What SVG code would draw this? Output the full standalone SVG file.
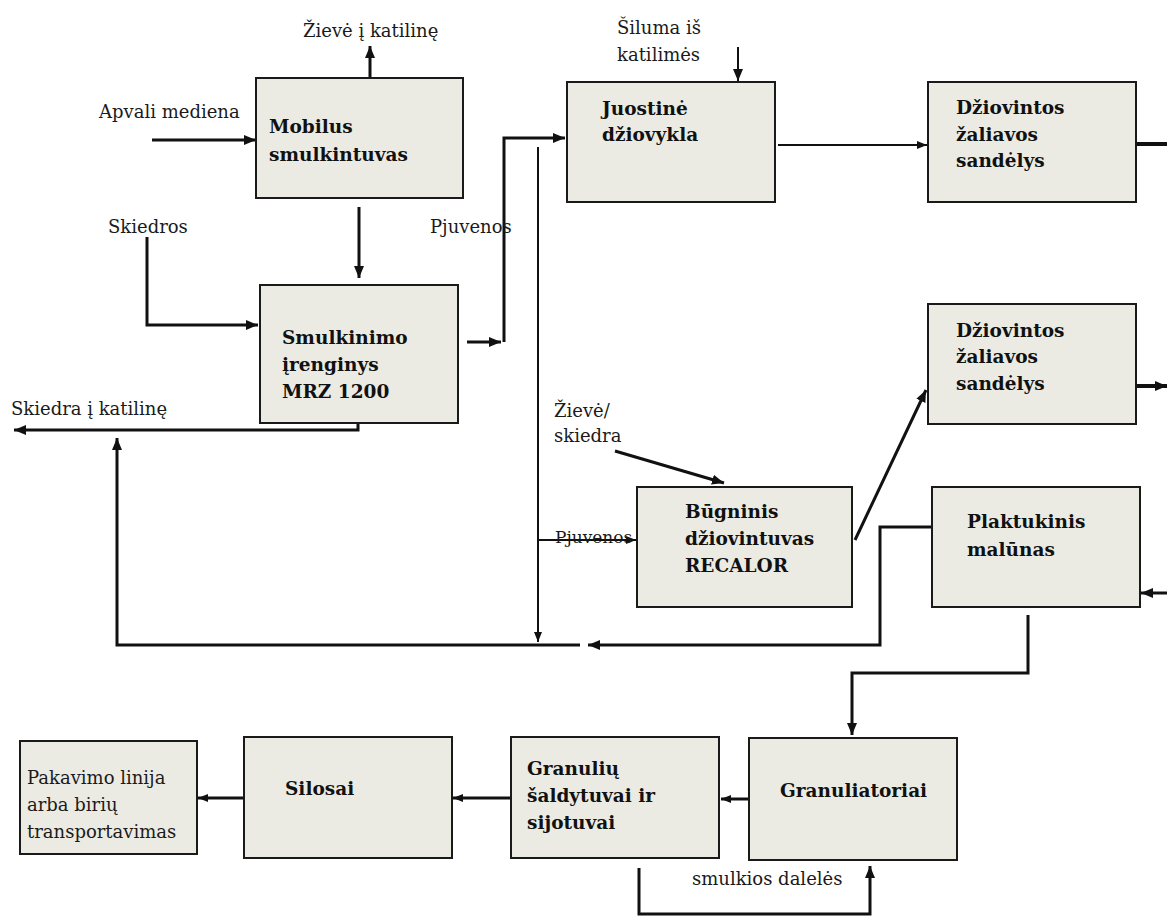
<svg xmlns="http://www.w3.org/2000/svg" width="1167" height="917" viewBox="0 0 1167 917">
<style>
.box{fill:#EBEBE4;stroke:#1a1a1a;stroke-width:2}
.t{font-family:"DejaVu Serif","Liberation Serif",serif;font-size:18px;fill:#1a1a1a}
.b{font-family:"DejaVu Serif","Liberation Serif",serif;font-size:18.5px;font-weight:bold;fill:#111}
.c{fill:none;stroke:#111;stroke-width:3}
.n{fill:none;stroke:#111;stroke-width:2}
</style>
<defs>
<marker id="ah" markerUnits="userSpaceOnUse" markerWidth="14" markerHeight="12" refX="12" refY="6" orient="auto">
<path d="M0,1 L12,6 L0,11 Z" fill="#111"/>
</marker>
<marker id="as" markerUnits="userSpaceOnUse" markerWidth="12" markerHeight="10" refX="10" refY="5" orient="auto">
<path d="M0,1 L10,5 L0,9 Z" fill="#111"/>
</marker>
</defs>
<rect width="1167" height="917" fill="#fff"/>

<g id="connectors">
<line class="c" x1="370" y1="78" x2="370" y2="46" marker-end="url(#ah)"/>
<line class="c" x1="152" y1="140" x2="256" y2="140" marker-end="url(#ah)"/>
<line class="c" x1="359" y1="207" x2="359" y2="278" marker-end="url(#ah)"/>
<polyline class="c" points="147,237 147,325 258,325" marker-end="url(#ah)"/>
<line class="c" x1="467" y1="342" x2="501" y2="342" marker-end="url(#ah)"/>
<polyline class="c" points="504,342 504,138 565,138" marker-end="url(#ah)"/>
<polyline class="c" points="358,423 358,430 14,430" marker-end="url(#ah)"/>
<polyline class="c" points="580,645 117,645 117,438" marker-end="url(#ah)"/>
<polyline class="c" points="932,527 880,527 880,645 588,645" marker-end="url(#ah)"/>
<line class="n" x1="538" y1="147" x2="538" y2="642" marker-end="url(#as)"/>
<line class="n" x1="538" y1="540" x2="636" y2="540" marker-end="url(#as)"/>
<line class="c" x1="615" y1="451" x2="724" y2="483" marker-end="url(#ah)"/>
<line class="c" x1="855" y1="540" x2="926" y2="390" marker-end="url(#ah)"/>
<line class="n" x1="738" y1="47" x2="738" y2="81" marker-end="url(#ah)"/>
<line class="n" x1="778" y1="145" x2="927" y2="145" marker-end="url(#as)"/>
<line class="c" x1="1136" y1="144" x2="1167" y2="144" style="stroke-width:4"/>
<line class="c" x1="1136" y1="386" x2="1167" y2="386" style="stroke-width:4" marker-end="url(#ah)"/>
<line class="c" x1="1167" y1="593" x2="1141" y2="593" marker-end="url(#ah)"/>
<polyline class="c" points="1028,615 1028,673 852,673 852,735" marker-end="url(#ah)"/>
<line class="c" x1="749" y1="799" x2="721" y2="799" marker-end="url(#as)"/>
<line class="c" x1="511" y1="798" x2="453" y2="798" marker-end="url(#as)"/>
<line class="c" x1="244" y1="798" x2="198" y2="798" marker-end="url(#as)"/>
<polyline class="c" points="639,868 639,914 870,914 870,866" marker-end="url(#ah)"/>
</g>

<g id="labels">
<text class="t" x="303" y="37">Žievė į katilinę</text>
<text class="t" x="99" y="118">Apvali mediena</text>
<text class="t" x="108" y="233">Skiedros</text>
<text class="t" x="430" y="233">Pjuvenos</text>
<text class="t" x="617" y="34">Šiluma iš</text>
<text class="t" x="617" y="61">katilimės</text>
<text class="t" x="11" y="415">Skiedra į katilinę</text>
<text class="t" x="554" y="417">Žievė/</text>
<text class="t" x="554" y="442">skiedra</text>
<text class="t" x="555" y="543" style="font-size:17px">Pjuvenos</text>
<text class="t" x="692" y="885">smulkios dalelės</text>
</g>

<g id="node-mobilus">
<rect class="box" x="256" y="78" width="207" height="120"/>
<text class="b" x="269" y="133">Mobilus</text>
<text class="b" x="269" y="161">smulkintuvas</text>
</g>
<g id="node-smulkinimo">
<rect class="box" x="260" y="285" width="198" height="138"/>
<text class="b" x="282" y="344">Smulkinimo</text>
<text class="b" x="282" y="371">įrenginys</text>
<text class="b" x="282" y="398">MRZ 1200</text>
</g>
<g id="node-juostine">
<rect class="box" x="567" y="82" width="208" height="120"/>
<text class="b" x="602" y="115">Juostinė</text>
<text class="b" x="602" y="141">džiovykla</text>
</g>
<g id="node-sandelys1">
<rect class="box" x="928" y="82" width="208" height="120"/>
<text class="b" x="956" y="114">Džiovintos</text>
<text class="b" x="956" y="141">žaliavos</text>
<text class="b" x="956" y="167">sandėlys</text>
</g>
<g id="node-sandelys2">
<rect class="box" x="928" y="304" width="208" height="120"/>
<text class="b" x="956" y="337">Džiovintos</text>
<text class="b" x="956" y="363">žaliavos</text>
<text class="b" x="956" y="390">sandėlys</text>
</g>
<g id="node-bugninis">
<rect class="box" x="637" y="487" width="215" height="120"/>
<text class="b" x="685" y="518">Būgninis</text>
<text class="b" x="685" y="545">džiovintuvas</text>
<text class="b" x="685" y="572">RECALOR</text>
</g>
<g id="node-plaktukinis">
<rect class="box" x="932" y="487" width="208" height="120"/>
<text class="b" x="967" y="528">Plaktukinis</text>
<text class="b" x="967" y="556">malūnas</text>
</g>
<g id="node-granuliatoriai">
<rect class="box" x="749" y="738" width="208" height="122"/>
<text class="b" x="780" y="797">Granuliatoriai</text>
</g>
<g id="node-granuliu">
<rect class="box" x="511" y="737" width="208" height="121"/>
<text class="b" x="527" y="775">Granulių</text>
<text class="b" x="527" y="802">šaldytuvai ir</text>
<text class="b" x="527" y="829">sijotuvai</text>
</g>
<g id="node-silosai">
<rect class="box" x="244" y="737" width="208" height="121"/>
<text class="b" x="285" y="795">Silosai</text>
</g>
<g id="node-pakavimo">
<rect class="box" x="20" y="741" width="177" height="113"/>
<text class="t" x="27" y="784">Pakavimo linija</text>
<text class="t" x="27" y="811">arba birių</text>
<text class="t" x="27" y="838">transportavimas</text>
</g>
</svg>
